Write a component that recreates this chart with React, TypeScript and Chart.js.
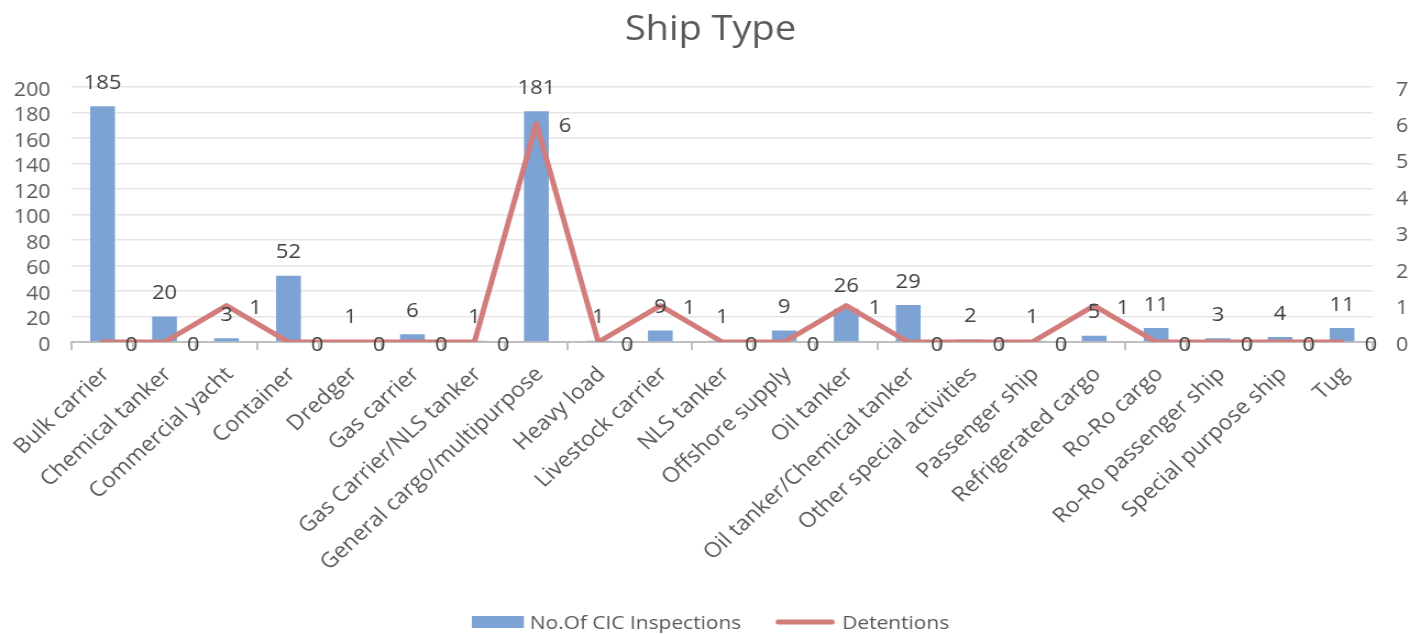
import React, { useEffect, useRef } from 'react';
import { Chart, registerables } from 'chart.js';

Chart.register(...registerables);

const chartTitle = 'Ship Type';
const seriesNames = ['No.Of CIC Inspections', 'Detentions'];
const categories = [
  'Bulk carrier',
  'Chemical tanker',
  'Commercial yacht',
  'Container',
  'Dredger',
  'Gas carrier',
  'Gas Carrier/NLS tanker',
  'General cargo/multipurpose',
  'Heavy load',
  'Livestock carrier',
  'NLS tanker',
  'Offshore supply',
  'Oil tanker',
  'Oil tanker/Chemical tanker',
  'Other special activities',
  'Passenger ship',
  'Refrigerated cargo',
  'Ro-Ro cargo',
  'Ro-Ro passenger ship',
  'Special purpose ship',
  'Tug',
];
const inspections = [185, 20, 3, 52, 1, 6, 1, 181, 1, 9, 1, 9, 26, 29, 2, 1, 5, 11, 3, 4, 11];
const detentions = [0, 0, 1, 0, 0, 0, 0, 6, 0, 1, 0, 0, 1, 0, 0, 0, 1, 0, 0, 0, 0];
const leftAxisMax = 200;
const leftAxisStep = 20;
const rightAxisMax = 7;
const rightAxisStep = 1;

const BAR_COLOR = '#7ca3d4';
const LINE_COLOR = '#d27c7b';
const TEXT_COLOR = '#595959';
const LABEL_COLOR = '#404040';
const FONT = '"Open Sans", sans-serif';

// The reference picture is a chart stretched horizontally; render narrower and stretch with CSS.
const VIEW_W = 1421;
const VIEW_H = 634;
const STRETCH = 1.1;
const CANVAS_W = Math.round(VIEW_W / STRETCH);
const sx = (px: number) => px / STRETCH;

const TICK_SIZE = 19.5;
const CAT_SIZE = 21;
const DATA_SIZE = 20;
const LEGEND_SIZE = 19;
const TITLE_SIZE = 34.5;

const valueLabels = {
  id: 'valueLabels',
  afterDatasetsDraw(chart: any) {
    const ctx = chart.ctx;
    ctx.save();
    ctx.font = `${DATA_SIZE}px ${FONT}`;
    ctx.fillStyle = LABEL_COLOR;
    ctx.textBaseline = 'middle';
    const barMeta = chart.getDatasetMeta(0);
    const barData = chart.data.datasets[0].data;
    ctx.textAlign = 'center';
    barMeta.data.forEach((el: any, i: number) => {
      ctx.fillText(String(barData[i]), el.x, el.y - 23);
    });
    const lineMeta = chart.getDatasetMeta(1);
    const lineData = chart.data.datasets[1].data;
    ctx.textAlign = 'left';
    lineMeta.data.forEach((el: any, i: number) => {
      ctx.fillText(String(lineData[i]), el.x + sx(22.5), el.y + 3);
    });
    ctx.restore();
  },
};

const customLegend = {
  id: 'customLegend',
  afterDraw(chart: any) {
    const ctx = chart.ctx;
    ctx.save();
    ctx.font = `${LEGEND_SIZE}px ${FONT}`;
    const t1 = seriesNames[0];
    const t2 = seriesNames[1];
    const w1 = ctx.measureText(t1).width;
    const w2 = ctx.measureText(t2).width;
    const boxW = sx(52);
    const gap1 = sx(6);
    const spacing = sx(35);
    const lineW = sx(58);
    const gap2 = sx(8);
    const total = boxW + gap1 + w1 + spacing + lineW + gap2 + w2;
    let x = (chart.width - total) / 2;
    const y = 622;
    ctx.fillStyle = BAR_COLOR;
    ctx.fillRect(x, y - 6, boxW, 12);
    x += boxW + gap1;
    ctx.fillStyle = TEXT_COLOR;
    ctx.textBaseline = 'middle';
    ctx.textAlign = 'left';
    ctx.fillText(t1, x, y + 2);
    x += w1 + spacing;
    ctx.strokeStyle = LINE_COLOR;
    ctx.lineWidth = 5;
    ctx.lineCap = 'round';
    ctx.beginPath();
    ctx.moveTo(x + 2, y);
    ctx.lineTo(x + lineW - 2, y);
    ctx.stroke();
    x += lineW + gap2;
    ctx.fillText(t2, x, y + 2);
    ctx.restore();
  },
};

export default function App() {
  const canvasRef = useRef<HTMLCanvasElement | null>(null);

  useEffect(() => {
    if (!canvasRef.current) return;
    Chart.defaults.font.family = FONT;
    Chart.defaults.font.size = TICK_SIZE;
    Chart.defaults.color = TEXT_COLOR;
    const chart = new Chart(canvasRef.current, {
      type: 'bar',
      data: {
        labels: categories,
        datasets: [
          {
            type: 'bar',
            label: seriesNames[0],
            data: inspections,
            backgroundColor: BAR_COLOR,
            borderWidth: 0,
            barPercentage: 0.4,
            categoryPercentage: 1,
            yAxisID: 'y',
            order: 2,
          },
          {
            type: 'line',
            label: seriesNames[1],
            data: detentions,
            borderColor: LINE_COLOR,
            backgroundColor: LINE_COLOR,
            borderWidth: 5,
            pointRadius: 0,
            tension: 0,
            borderCapStyle: 'round',
            borderJoinStyle: 'round',
            yAxisID: 'y1',
            order: 1,
          },
        ] as any,
      },
      options: {
        responsive: false,
        maintainAspectRatio: false,
        devicePixelRatio: 1,
        animation: false,
        layout: { padding: { top: 0, left: 0, right: 0, bottom: 26 } },
        plugins: {
          legend: { display: false },
          tooltip: { enabled: false },
          title: {
            display: true,
            text: chartTitle,
            color: TEXT_COLOR,
            font: { size: TITLE_SIZE, family: FONT, weight: 'normal' },
            padding: { top: 9.3, bottom: 36.3 },
          },
        },
        scales: {
          x: {
            offset: true,
            grid: {
              offset: true,
              drawOnChartArea: false,
              drawTicks: true,
              tickLength: 8,
              color: '#bfbfbf',
              lineWidth: 2,
            },
            border: { display: true, color: '#bfbfbf', width: 2 },
            ticks: {
              autoSkip: false,
              maxRotation: 45,
              minRotation: 45,
              padding: 12,
              labelOffset: 3,
              color: TEXT_COLOR,
              font: { size: CAT_SIZE, family: FONT },
            },
            afterFit: (s: any) => {
              s.height = 266;
            },
          },
          y: {
            position: 'left',
            min: 0,
            max: leftAxisMax,
            ticks: {
              stepSize: leftAxisStep,
              autoSkip: false,
              padding: sx(21),
              labelOffset: 3,
              color: TEXT_COLOR,
              font: { size: TICK_SIZE, family: FONT },
            },
            grid: { color: '#e6e6e6', lineWidth: 1.5, drawTicks: false },
            border: { display: false },
            afterFit: (s: any) => {
              s.width = sx(68);
            },
          },
          y1: {
            position: 'right',
            min: 0,
            max: rightAxisMax,
            ticks: {
              stepSize: rightAxisStep,
              autoSkip: false,
              padding: sx(23),
              labelOffset: 3,
              color: TEXT_COLOR,
              font: { size: TICK_SIZE, family: FONT },
            },
            grid: { display: false, drawTicks: false },
            border: { display: false },
            afterFit: (s: any) => {
              s.width = sx(VIEW_W - 1373);
            },
          },
        } as any,
      },
      plugins: [valueLabels, customLegend],
    });
    return () => chart.destroy();
  }, []);

  return (
    <div style={{ position: 'fixed', left: 0, top: 0, width: VIEW_W, height: VIEW_H, background: '#ffffff', overflow: 'hidden' }}>
      <canvas
        ref={canvasRef}
        width={CANVAS_W}
        height={VIEW_H}
        style={{ display: 'block', width: VIEW_W, height: VIEW_H }}
      />
    </div>
  );
}
